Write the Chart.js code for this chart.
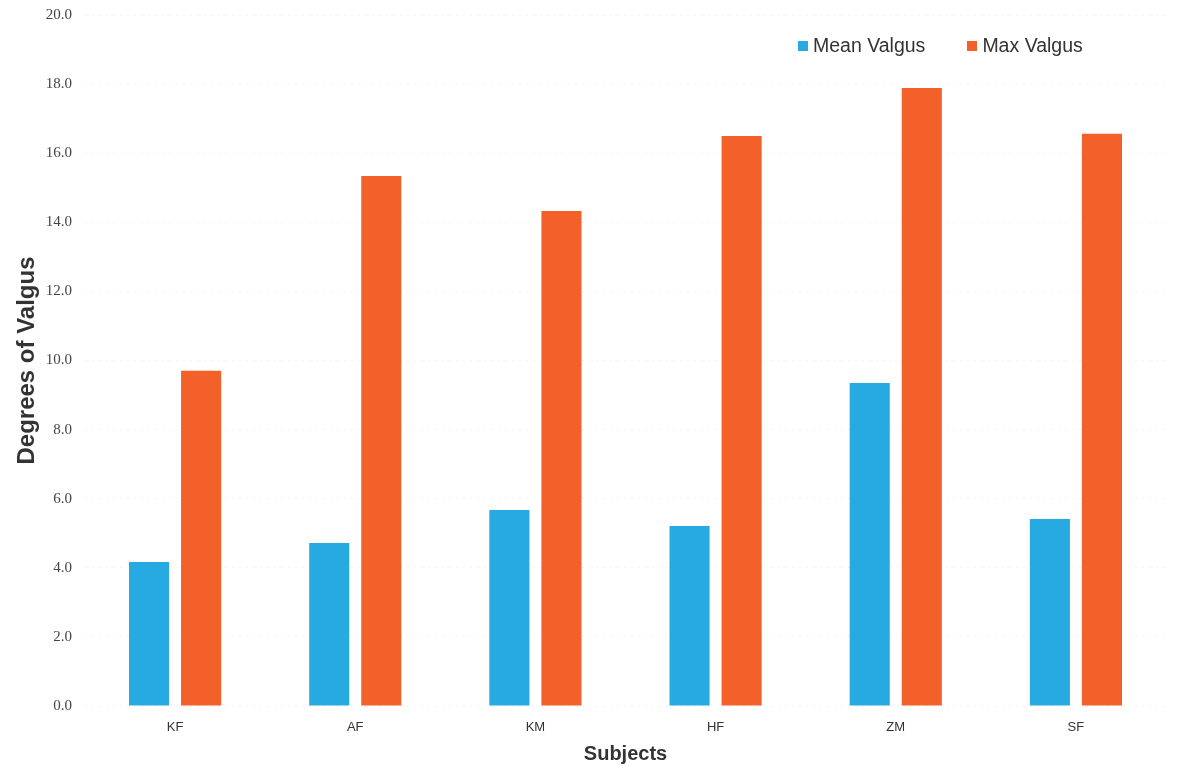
<!DOCTYPE html>
<html>
<head>
<meta charset="utf-8">
<script src="https://cdn.jsdelivr.net/npm/chart.js@4"></script>
<style>
  html, body { margin: 0; padding: 0; background: #fff; }
  #wrap { position: relative; width: 1182px; height: 770px; }
  canvas { position: absolute; left: 0; top: 0; }
  #legend { position: absolute; top: 34px; left: 798px; font: 19.5px "Liberation Sans", Arial, sans-serif; color: #333; display: flex; gap: 42px; }
  #legend span.item { display: flex; align-items: center; }
  #legend i { display: inline-block; width: 10px; height: 10px; margin-right: 5px; }
</style>
</head>
<body>
<div id="wrap">
  <canvas id="c" width="1182" height="770"></canvas>
  <div id="legend"></div>
</div>
<script>
// Subjects on the x axis
const subjects = ["KF", "AF", "KM", "HF", "ZM", "SF"];
// Knee valgus angles, degrees
const meanValgus = [4.17, 4.72, 5.67, 5.21, 9.35, 5.41];
const maxValgus = [9.70, 15.34, 14.33, 16.50, 17.89, 16.56];
const seriesNames = ["Mean Valgus", "Max Valgus"];
const yTicks = [0, 2, 4, 6, 8, 10, 12, 14, 16, 18, 20];

const colors = ["#27a9e1", "#f3602a"];

// HTML legend drawn inside the plot area at top right
const legend = document.getElementById("legend");
seriesNames.forEach((name, i) => {
  const s = document.createElement("span");
  s.className = "item";
  s.innerHTML = '<i style="background:' + colors[i] + '"></i>' + name;
  legend.appendChild(s);
});

new Chart(document.getElementById("c"), {
  type: "bar",
  data: {
    labels: subjects,
    datasets: [
      { label: seriesNames[0], data: meanValgus, backgroundColor: colors[0] },
      { label: seriesNames[1], data: maxValgus, backgroundColor: colors[1] }
    ]
  },
  options: {
    responsive: false,
    animation: false,
    categoryPercentage: 0.578,
    barPercentage: 0.77,
    layout: { padding: { top: 15, right: 16, left: 1, bottom: 0 } },
    plugins: { legend: { display: false }, tooltip: { enabled: false } },
    scales: {
      x: {
        grid: { display: false },
        border: { display: false },
        ticks: { color: "#333", font: { family: "Liberation Sans", size: 13 }, padding: 6 },
        title: { display: true, text: "Subjects", color: "#333", font: { family: "Liberation Sans", size: 20, weight: "bold" }, padding: { top: 2 } },
        afterFit: s => { s.height = 64; }
      },
      y: {
        min: 0, max: 20,
        afterBuildTicks: s => { s.ticks = yTicks.map(v => ({ value: v })); },
        grid: { color: "rgba(0,0,0,0.05)", drawTicks: false },
        border: { display: false, dash: [2, 5] },
        ticks: { color: "#444", font: { family: "Liberation Serif", size: 15 }, padding: 13, callback: v => Number(v).toFixed(1) },
        title: { display: true, text: "Degrees of Valgus", color: "#333", font: { family: "Liberation Sans", size: 24, weight: "bold" }, padding: { top: 12, bottom: 0 } },
        afterFit: s => { s.width = 84; s.paddingTop = 0; s.paddingBottom = 0; }
      }
    }
  }
});
</script>
</body>
</html>
